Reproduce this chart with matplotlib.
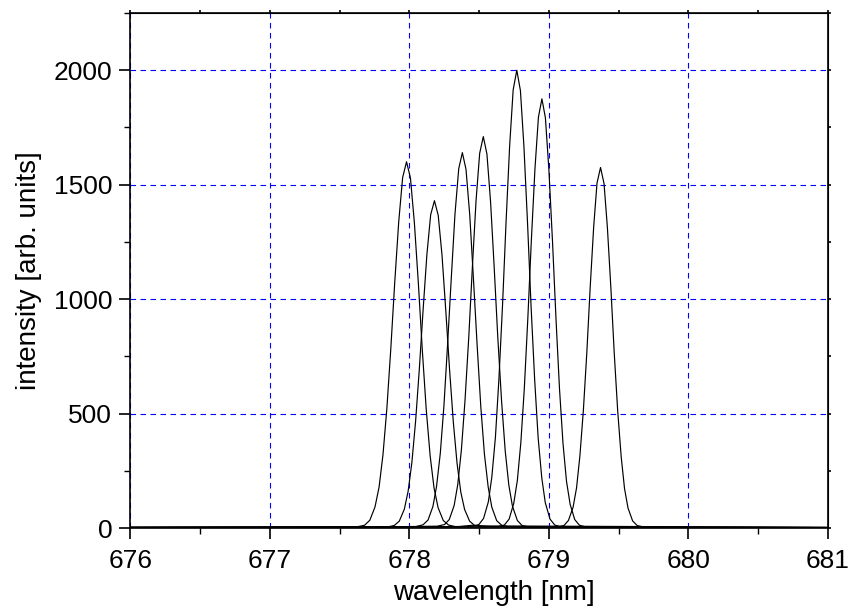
import matplotlib
matplotlib.use("Agg")
import matplotlib.pyplot as plt
from matplotlib.ticker import MultipleLocator

# spectra (wavelength in nm, intensity in arb. units)
wl_1 = [676.0, 677.3, 677.623, 677.679, 677.717, 677.754, 677.783, 677.811, 677.839, 677.867, 677.895, 677.924, 677.952, 677.98,
        678.008, 678.036, 678.065, 678.093, 678.121, 678.149, 678.177, 678.206, 678.243, 678.281, 678.337, 678.45, 678.7, 681.0]
int_1 = [3, 4, 5, 12, 34, 92, 178, 319, 522, 781, 1069, 1338, 1531, 1600,
         1529, 1335, 1066, 777, 519, 316, 175, 89, 33, 13, 5, 12, 5, 2]

wl_2 = [676.0, 677.4, 677.838, 677.892, 677.928, 677.964, 677.991, 678.018, 678.045, 678.072, 678.099, 678.126, 678.153, 678.18,
        678.207, 678.234, 678.261, 678.288, 678.315, 678.342, 678.369, 678.396, 678.432, 678.468, 678.522, 678.65, 681.0]
int_2 = [2, 3, 4, 11, 30, 82, 159, 285, 467, 698, 956, 1196, 1369, 1430,
         1366, 1193, 952, 695, 464, 282, 156, 81, 30, 11, 6, 9, 3]

wl_3 = [676.0, 677.6, 678.046, 678.098, 678.134, 678.169, 678.195, 678.222, 678.248, 678.274, 678.301, 678.327, 678.354, 678.38,
        678.406, 678.433, 678.459, 678.486, 678.512, 678.538, 678.565, 678.591, 678.626, 678.662, 678.714, 679.0, 681.0]
int_3 = [3, 4, 6, 14, 35, 94, 182, 327, 535, 801, 1096, 1371, 1570, 1640,
         1567, 1367, 1092, 797, 531, 323, 179, 91, 32, 12, 5, 4, 2]

wl_4 = [676.0, 677.7, 678.199, 678.252, 678.286, 678.321, 678.347, 678.373, 678.399, 678.426, 678.452, 678.478, 678.504, 678.53,
        678.556, 678.582, 678.608, 678.634, 678.661, 678.687, 678.713, 678.739, 678.774, 678.808, 678.861, 679.1, 681.0]
int_4 = [2, 4, 8, 15, 37, 98, 190, 341, 558, 835, 1143, 1430, 1637, 1710,
         1634, 1426, 1139, 831, 554, 337, 187, 95, 33, 11, 4, 3, 2]

wl_5 = [676.0, 677.8, 678.447, 678.498, 678.532, 678.566, 678.591, 678.617, 678.642, 678.668, 678.693, 678.719, 678.744, 678.77,
        678.796, 678.821, 678.847, 678.872, 678.898, 678.923, 678.949, 678.974, 679.008, 679.042, 679.093, 679.4, 681.0]
int_5 = [3, 4, 7, 15, 42, 114, 222, 398, 652, 976, 1336, 1672, 1914, 2000,
         1911, 1668, 1332, 972, 648, 394, 219, 111, 39, 13, 4, 3, 2]

wl_6 = [676.0, 678.0, 678.631, 678.681, 678.715, 678.748, 678.774, 678.799, 678.824, 678.849, 678.874, 678.9, 678.925, 678.95,
        678.975, 679.0, 679.026, 679.051, 679.076, 679.101, 679.126, 679.152, 679.185, 679.219, 679.269, 679.6, 681.0]
int_6 = [2, 4, 5, 13, 39, 107, 208, 373, 611, 915, 1253, 1568, 1795, 1875,
         1792, 1565, 1250, 912, 608, 370, 205, 104, 37, 12, 4, 3, 2]

wl_7 = [676.0, 678.3, 679.058, 679.108, 679.14, 679.173, 679.198, 679.222, 679.247, 679.272, 679.296, 679.321, 679.345, 679.37,
        679.395, 679.419, 679.444, 679.468, 679.493, 679.518, 679.542, 679.567, 679.6, 679.632, 679.682, 680.0, 681.0]
int_7 = [3, 5, 4, 11, 33, 90, 175, 314, 514, 769, 1053, 1317, 1508, 1575,
         1505, 1314, 1050, 766, 511, 311, 172, 87, 31, 11, 4, 3, 2]

spectra = [(wl_1, int_1), (wl_2, int_2), (wl_3, int_3), (wl_4, int_4),
           (wl_5, int_5), (wl_6, int_6), (wl_7, int_7)]

plt.rcParams['font.family'] = ['Liberation Sans', 'DejaVu Sans']

fig = plt.figure(figsize=(8.51, 6.10), dpi=100)
ax = fig.add_axes([0.153, 0.1344, 0.820, 0.8443])

for wl, inten in spectra:
    ax.plot(wl, inten, color='black', linewidth=0.85)

ax.set_xlim(676, 681)
ax.set_ylim(0, 2250)
ax.xaxis.set_major_locator(MultipleLocator(1))
ax.xaxis.set_minor_locator(MultipleLocator(0.5))
ax.yaxis.set_major_locator(MultipleLocator(500))
ax.yaxis.set_minor_locator(MultipleLocator(250))

ax.grid(True, which='major', color='#0000ff', linestyle=(0, (5, 4)), linewidth=0.8)
ax.set_axisbelow(True)

for s in ax.spines.values():
    s.set_linewidth(1.2)

ax.tick_params(which='major', direction='out', length=8, width=1.2, labelsize=19, pad=5)
ax.tick_params(axis='x', which='major', pad=7)
ax.tick_params(which='minor', direction='out', length=4, width=1.0)

# short ticks on the top and right frame
top = ax.secondary_xaxis('top')
top.xaxis.set_major_locator(MultipleLocator(0.5))
top.tick_params(direction='out', length=2.5, width=1.2, labeltop=False)
right = ax.secondary_yaxis('right')
right.yaxis.set_major_locator(MultipleLocator(250))
right.tick_params(direction='out', length=2.5, width=1.2, labelright=False)

ax.set_xlabel("wavelength [nm]", fontsize=20)
ax.xaxis.set_label_coords(0.5 + 15 / 698, -0.100)
ax.set_ylabel("intensity [arb. units]", fontsize=20, labelpad=8)

fig.savefig("out.png", dpi=100)
